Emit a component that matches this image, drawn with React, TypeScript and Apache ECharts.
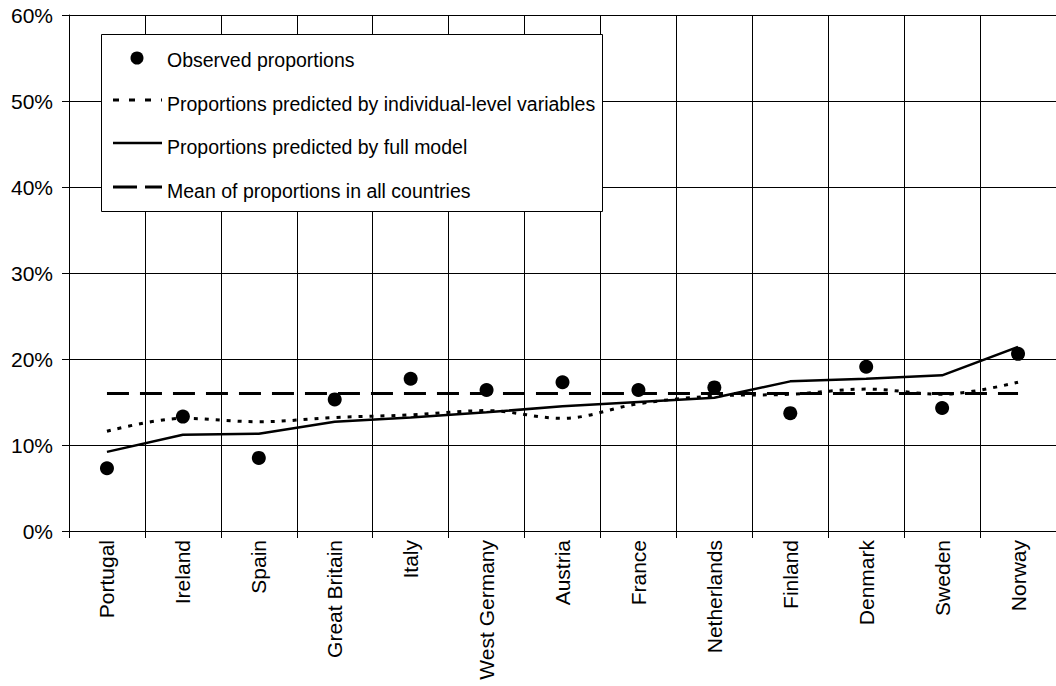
import React, { useEffect, useRef } from "react";
import * as echarts from "echarts";

const categories = [
  "Portugal", "Ireland", "Spain", "Great Britain", "Italy", "West Germany",
  "Austria", "France", "Netherlands", "Finland", "Denmark", "Sweden", "Norway",
];
const observed = [7.3, 13.3, 8.5, 15.3, 17.7, 16.4, 17.3, 16.4, 16.7, 13.7, 19.1, 14.3, 20.6];
const individualLevel = [11.6, 13.1, 12.7, 13.2, 13.5, 14.0, 13.1, 14.8, 15.7, 15.9, 16.5, 15.9, 17.3];
const fullModel = [9.2, 11.2, 11.3, 12.7, 13.2, 13.8, 14.5, 15.0, 15.5, 17.4, 17.7, 18.1, 21.4];
const meanAll = [16.0, 16.0, 16.0, 16.0, 16.0, 16.0, 16.0, 16.0, 16.0, 16.0, 16.0, 16.0, 16.0];
const legendLabels = [
  "Observed proportions",
  "Proportions predicted by individual-level variables",
  "Proportions predicted by full model",
  "Mean of proportions in all countries",
];

const FONT = "'Liberation Sans', Arial, Helvetica, sans-serif";

export default function App() {
  const ref = useRef<HTMLDivElement>(null);
  useEffect(() => {
    if (!ref.current) return;
    const chart = echarts.init(ref.current, null, { renderer: "svg" });
    const legendText = (i: number, y: number) => ({
      type: "text",
      left: 167,
      top: y - 11,
      z: 101,
      style: { text: legendLabels[i], font: `19.5px ${FONT}`, fill: "#000" },
    });
    chart.setOption({
      animation: false,
      backgroundColor: "#fff",
      textStyle: { fontFamily: FONT },
      grid: { left: 69, top: 15, right: -5, bottom: 155, containLabel: false },
      xAxis: {
        type: "category",
        data: categories,
        boundaryGap: true,
        axisLine: { show: true, lineStyle: { color: "#000", width: 1 } },
        axisTick: { show: true, interval: 0, length: 7, lineStyle: { color: "#000" } },
        splitLine: { show: true, interval: 0, lineStyle: { color: "#000", width: 1 } },
        axisLabel: {
          interval: 0,
          rotate: 90,
          margin: 9,
          fontSize: 21,
          color: "#000",
          fontFamily: FONT,
        },
      },
      yAxis: {
        type: "value",
        min: 0,
        max: 60,
        interval: 10,
        axisLine: { show: true, lineStyle: { color: "#000", width: 1 } },
        axisTick: { show: true, length: 7, lineStyle: { color: "#000" } },
        splitLine: { show: true, lineStyle: { color: "#000", width: 1 } },
        axisLabel: {
          formatter: "{value}%",
          margin: 16,
          fontSize: 21,
          color: "#000",
          fontFamily: FONT,
        },
      },
      series: [
        {
          name: legendLabels[1],
          type: "line",
          data: individualLevel,
          smooth: 0.35,
          symbol: "none",
          lineStyle: { color: "#000", width: 3, type: [4, 7] },
          z: 3,
        },
        {
          name: legendLabels[2],
          type: "line",
          data: fullModel,
          symbol: "none",
          lineStyle: { color: "#000", width: 2.5, type: "solid" },
          z: 4,
        },
        {
          name: legendLabels[3],
          type: "line",
          data: meanAll,
          symbol: "none",
          lineStyle: { color: "#000", width: 3, type: [22, 11] },
          z: 5,
        },
        {
          name: legendLabels[0],
          type: "scatter",
          data: observed,
          symbol: "circle",
          symbolSize: 14,
          itemStyle: { color: "#000", opacity: 1 },
          z: 6,
        },
      ],
      graphic: [
        {
          type: "rect",
          shape: { x: 101.5, y: 34.5, width: 501, height: 177 },
          style: { fill: "#fff", stroke: "#000", lineWidth: 1 },
          z: 100,
        },
        {
          type: "circle",
          shape: { cx: 137, cy: 58, r: 6.5 },
          style: { fill: "#000" },
          z: 101,
        },
        {
          type: "line",
          shape: { x1: 113, y1: 100, x2: 162, y2: 100 },
          style: { stroke: "#000", lineWidth: 3, lineDash: [6, 10] },
          z: 101,
        },
        {
          type: "line",
          shape: { x1: 113, y1: 143, x2: 162, y2: 143 },
          style: { stroke: "#000", lineWidth: 2.5 },
          z: 101,
        },
        {
          type: "line",
          shape: { x1: 113, y1: 187, x2: 162, y2: 187 },
          style: { stroke: "#000", lineWidth: 3, lineDash: [24, 8] },
          z: 101,
        },
        legendText(0, 61),
        legendText(1, 105),
        legendText(2, 148),
        legendText(3, 192),
      ],
    });
    return () => chart.dispose();
  }, []);
  return (
    <div
      ref={ref}
      style={{ position: "fixed", left: 0, top: 0, width: 1056, height: 686, background: "#fff" }}
    />
  );
}
